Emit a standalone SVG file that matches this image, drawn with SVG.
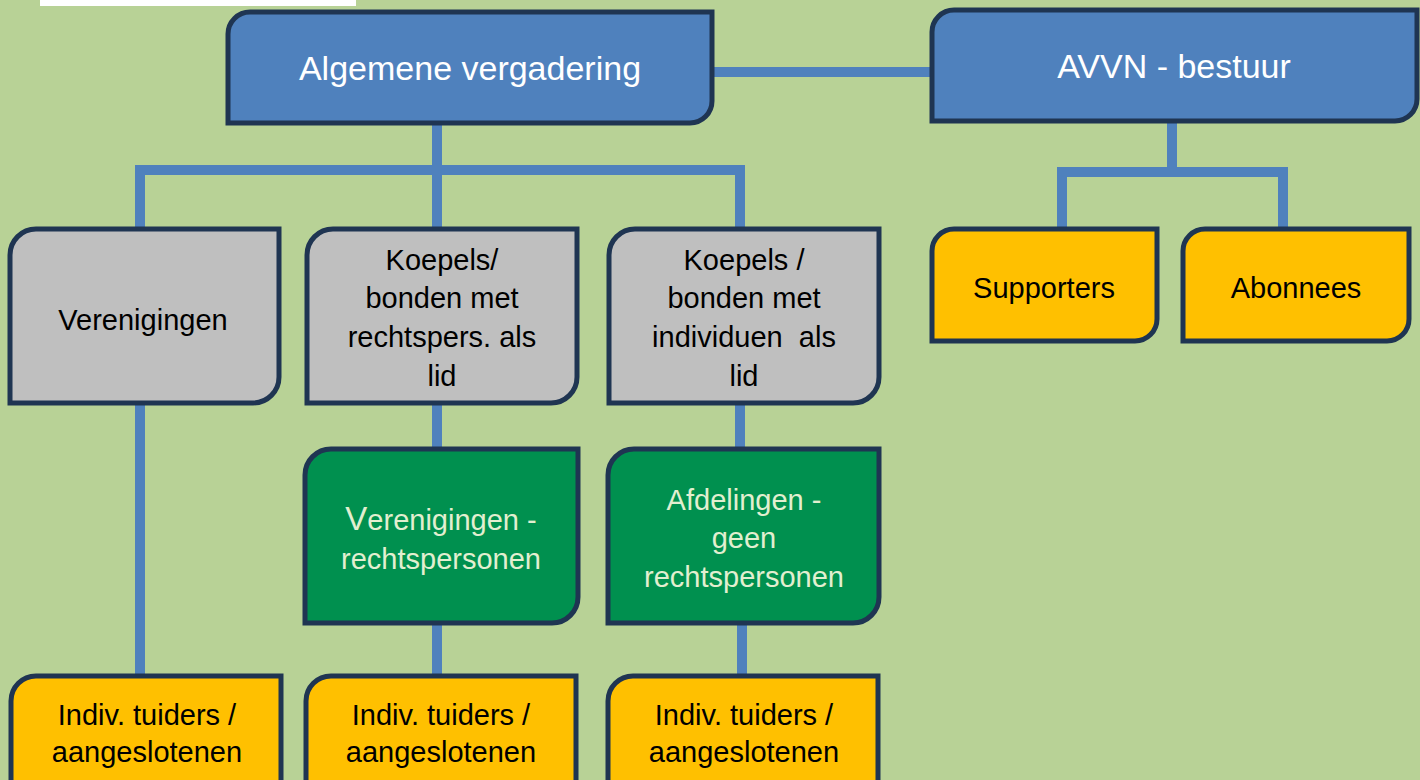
<svg xmlns="http://www.w3.org/2000/svg" width="1420" height="780" viewBox="0 0 1420 780">
<style>
.bx{stroke:#1F3552;stroke-width:5;}
.blue{fill:#4F81BD;}
.gray{fill:#BFBFBF;}
.yel{fill:#FFC000;}
.grn{fill:#00904F;}
.c{fill:none;stroke:#4F81BD;stroke-width:10;stroke-linejoin:miter;}
text{font-family:"Liberation Sans",Arial,sans-serif;text-anchor:middle;}
.tw{fill:#FFFFFF;font-size:34px;}
.tb{fill:#000000;font-size:29px;}
.tg{fill:#E2EFD0;font-size:29px;}
</style>
<rect x="0" y="0" width="1420" height="780" fill="#B8D296"/>
<rect x="40" y="0" width="316" height="6" fill="#FFFFFF"/>
<g id="connectors">
<path class="c" d="M712,72 H932"/>
<path class="c" d="M437,123 V230"/>
<path class="c" d="M140,230 V170 H740 V230"/>
<path class="c" d="M1172,121 V172"/>
<path class="c" d="M1062,230 V172 H1283 V230"/>
<path class="c" d="M140,403 V676"/>
<path class="c" d="M437,403 V449"/>
<path class="c" d="M437,623 V676"/>
<path class="c" d="M740,403 V449"/>
<path class="c" d="M742,623 V676"/>
</g>
<g id="algemene-vergadering">
<path class="bx blue" d="M250,12 H712 V101 A22,22 0 0 1 690,123 H228 V34 A22,22 0 0 1 250,12 Z"/>
<text class="tw" x="470" y="80">Algemene vergadering</text>
</g>
<g id="avvn-bestuur">
<path class="bx blue" d="M954,10 H1417 V99 A22,22 0 0 1 1395,121 H932 V32 A22,22 0 0 1 954,10 Z"/>
<text class="tw" x="1174" y="78">AVVN - bestuur</text>
</g>
<g id="verenigingen">
<path class="bx gray" d="M36,229 H279 V377 A26,26 0 0 1 253,403 H10 V255 A26,26 0 0 1 36,229 Z"/>
<text class="tb" x="143" y="330">Verenigingen</text>
</g>
<g id="koepels-rechtspers">
<path class="bx gray" d="M333,229 H577 V377 A26,26 0 0 1 551,403 H307 V255 A26,26 0 0 1 333,229 Z"/>
<text class="tb" x="442" y="270">Koepels/</text>
<text class="tb" x="442" y="308">bonden met</text>
<text class="tb" x="442" y="347">rechtspers. als</text>
<text class="tb" x="442" y="386">lid</text>
</g>
<g id="koepels-individuen">
<path class="bx gray" d="M635,229 H879 V377 A26,26 0 0 1 853,403 H609 V255 A26,26 0 0 1 635,229 Z"/>
<text class="tb" x="744" y="270">Koepels /</text>
<text class="tb" x="744" y="308">bonden met</text>
<text class="tb" x="744" y="347">individuen&#160; als</text>
<text class="tb" x="744" y="386">lid</text>
</g>
<g id="supporters">
<path class="bx yel" d="M954,229 H1157 V319 A22,22 0 0 1 1135,341 H932 V251 A22,22 0 0 1 954,229 Z"/>
<text class="tb" x="1044" y="298">Supporters</text>
</g>
<g id="abonnees">
<path class="bx yel" d="M1205,229 H1409 V319 A22,22 0 0 1 1387,341 H1183 V251 A22,22 0 0 1 1205,229 Z"/>
<text class="tb" x="1296" y="298">Abonnees</text>
</g>
<g id="verenigingen-rechtspersonen">
<path class="bx grn" d="M331,449 H578 V597 A26,26 0 0 1 552,623 H305 V475 A26,26 0 0 1 331,449 Z"/>
<text class="tg" x="441" y="530"><tspan font-size="33">V</tspan>erenigingen -</text>
<text class="tg" x="441" y="569">rechtspersonen</text>
</g>
<g id="afdelingen">
<path class="bx grn" d="M634,449 H879 V597 A26,26 0 0 1 853,623 H608 V475 A26,26 0 0 1 634,449 Z"/>
<text class="tg" x="744" y="510">Afdelingen -</text>
<text class="tg" x="744" y="548">geen</text>
<text class="tg" x="744" y="587">rechtspersonen</text>
</g>
<g id="indiv-1">
<path class="bx yel" d="M36,676 H281 V810 H11 V701 A25,25 0 0 1 36,676 Z"/>
<text class="tb" x="147" y="725">Indiv. tuiders /</text>
<text class="tb" x="147" y="762">aangeslotenen</text>
</g>
<g id="indiv-2">
<path class="bx yel" d="M331,676 H576 V810 H306 V701 A25,25 0 0 1 331,676 Z"/>
<text class="tb" x="441" y="725">Indiv. tuiders /</text>
<text class="tb" x="441" y="762">aangeslotenen</text>
</g>
<g id="indiv-3">
<path class="bx yel" d="M633,676 H878 V810 H608 V701 A25,25 0 0 1 633,676 Z"/>
<text class="tb" x="744" y="725">Indiv. tuiders /</text>
<text class="tb" x="744" y="762">aangeslotenen</text>
</g>
</svg>
